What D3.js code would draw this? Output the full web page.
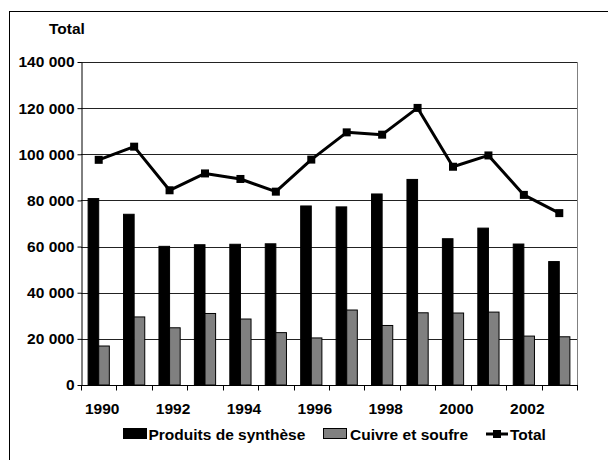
<!DOCTYPE html>
<html>
<head>
<meta charset="utf-8">
<script src="https://cdn.jsdelivr.net/npm/d3@7"></script>
<style>
  body { margin: 0; background: #fff; }
  text { font-family: "Liberation Sans", Arial, sans-serif; font-weight: bold; font-size: 15.5px; fill: #000; }
</style>
</head>
<body>
<div id="chart"></div>
<script>
var width = 608;
var height = 460;

// data
var years = [1990, 1991, 1992, 1993, 1994, 1995, 1996, 1997, 1998, 1999, 2000, 2001, 2002, 2003];
var produits = [80800, 74000, 60100, 60800, 61000, 61200, 77600, 77200, 82800, 89100, 63400, 68000, 61100, 53500];
var cuivre = [16900, 29500, 24800, 31000, 28600, 22700, 20400, 32500, 25800, 31300, 31200, 31600, 21200, 20900];
var total = [97600, 103300, 84400, 91700, 89300, 83800, 97700, 109500, 108500, 120100, 94600, 99500, 82400, 74500];
var yTicks = [0, 20000, 40000, 60000, 80000, 100000, 120000, 140000];
var seriesNames = ["Produits de synthèse", "Cuivre et soufre", "Total"];

// plot area (note: "top" is taken by window.top, so use other names)
var plotLeft = 81, plotRight = 577, plotTop = 62, plotBottom = 385;

var svg = d3.select("#chart").append("svg").attr("width", width).attr("height", height);

// outer frame (runs off the picture on the right and bottom)
svg.append("rect").attr("x", 9.5).attr("y", 11.5).attr("width", 640).attr("height", 480)
    .attr("fill", "none").attr("stroke", "#000").attr("stroke-width", 1);

var x = d3.scaleBand().domain(years).range([plotLeft, plotRight]).paddingInner(0).paddingOuter(0);
var xs = d3.scaleBand().domain([0, 1]).range([0, x.bandwidth()]).paddingInner(0).paddingOuter(0.67);
var y = d3.scaleLinear().domain([0, 140000]).range([plotBottom, plotTop]);

var fmt = d3.formatLocale({decimal: ",", thousands: " ", grouping: [3], currency: ["", ""]}).format(",d");

// gridlines
svg.append("g").selectAll("line").data(yTicks.slice(1)).enter().append("line")
    .attr("x1", plotLeft).attr("x2", plotRight)
    .attr("y1", function(d) { return Math.round(y(d)) + 0.5; })
    .attr("y2", function(d) { return Math.round(y(d)) + 0.5; })
    .attr("stroke", "#222").attr("stroke-width", 1);

// right border of plot area
svg.append("line").attr("x1", plotRight + 0.5).attr("x2", plotRight + 0.5).attr("y1", plotTop).attr("y2", plotBottom)
    .attr("stroke", "#808080");

// bars
var groups = svg.append("g").selectAll("g").data(years).enter().append("g")
    .attr("transform", function(d) { return "translate(" + x(d) + ",0)"; });

groups.append("rect")
    .attr("x", xs(0)).attr("width", xs.bandwidth())
    .attr("y", function(d, i) { return y(produits[i]); })
    .attr("height", function(d, i) { return plotBottom - y(produits[i]); })
    .attr("fill", "#000").attr("stroke", "#000").attr("stroke-width", 1);

groups.append("rect")
    .attr("x", xs(1)).attr("width", xs.bandwidth())
    .attr("y", function(d, i) { return y(cuivre[i]); })
    .attr("height", function(d, i) { return plotBottom - y(cuivre[i]); })
    .attr("fill", "#808080").attr("stroke", "#000").attr("stroke-width", 1);

// axes
var yAxis = d3.axisLeft(y).tickValues(yTicks).tickSize(4).tickSizeOuter(0).tickPadding(3).tickFormat(fmt);
var gy = svg.append("g").attr("transform", "translate(" + (plotLeft + 0.5) + ",0)").call(yAxis);
gy.attr("font-size", null).attr("font-family", null);
gy.select(".domain").attr("stroke", "#000");

var gx = svg.append("g").attr("transform", "translate(0," + (plotBottom + 0.5) + ")");
gx.append("line").attr("x1", plotLeft).attr("x2", plotRight + 1).attr("stroke", "#000");
gx.selectAll("line.tick").data(years.concat([years[years.length - 1] + 1])).enter().append("line")
    .attr("class", "tick")
    .attr("x1", function(d, i) { return Math.round(plotLeft + i * x.step()) + 0.5; })
    .attr("x2", function(d, i) { return Math.round(plotLeft + i * x.step()) + 0.5; })
    .attr("y1", 0).attr("y2", 5).attr("stroke", "#000");
gx.selectAll("text").data(years.filter(function(d) { return d % 2 === 0; })).enter().append("text")
    .attr("x", function(d) { return x(d) + x.bandwidth() / 2 + 3.5; })
    .attr("y", 28.5)
    .attr("text-anchor", "middle")
    .text(function(d) { return d; });

// total line
var line = d3.line()
    .x(function(d, i) { return x(years[i]) + x.bandwidth() / 2; })
    .y(function(d) { return y(d); });
svg.append("path").datum(total).attr("d", line)
    .attr("fill", "none").attr("stroke", "#000").attr("stroke-width", 3).attr("stroke-linejoin", "round");
svg.append("g").selectAll("rect").data(total).enter().append("rect")
    .attr("x", function(d, i) { return x(years[i]) + x.bandwidth() / 2 - 4; })
    .attr("y", function(d) { return y(d) - 4; })
    .attr("width", 8).attr("height", 8).attr("fill", "#000");

// axis title
svg.append("text").attr("x", 49).attr("y", 34).text("Total");

// legend
var legend = svg.append("g");
legend.append("rect").attr("x", 123.5).attr("y", 428.5).attr("width", 23).attr("height", 10)
    .attr("fill", "#000").attr("stroke", "#000");
legend.append("text").attr("x", 148.5).attr("y", 440).text(seriesNames[0]);
legend.append("rect").attr("x", 323.5).attr("y", 428.5).attr("width", 23).attr("height", 10)
    .attr("fill", "#808080").attr("stroke", "#000");
legend.append("text").attr("x", 350).attr("y", 440).text(seriesNames[1]);
legend.append("line").attr("x1", 486).attr("x2", 508).attr("y1", 434).attr("y2", 434)
    .attr("stroke", "#000").attr("stroke-width", 3);
legend.append("rect").attr("x", 493).attr("y", 430).attr("width", 8).attr("height", 8).attr("fill", "#000");
legend.append("text").attr("x", 510).attr("y", 440).text(seriesNames[2]);
</script>
</body>
</html>
